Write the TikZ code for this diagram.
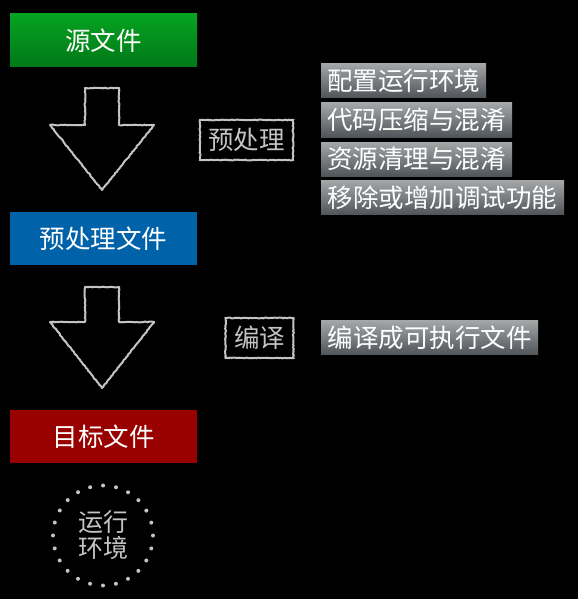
\documentclass[tikz,border=0pt]{standalone}
\usepackage{fontspec}
\setmainfont{Noto Sans CJK SC}
\usetikzlibrary{decorations.pathmorphing}
\definecolor{gtop}{HTML}{06A321}
\definecolor{gbot}{HTML}{007818}
\definecolor{bluebox}{HTML}{0062A8}
\definecolor{redbox}{HTML}{990000}
\definecolor{stop}{HTML}{A4A6A7}
\definecolor{sbot}{HTML}{50555A}
\definecolor{chalk}{HTML}{C4C4C4}
\begin{document}
\begin{tikzpicture}[x=1pt,y=-1pt,
  mainbox/.style={minimum width=187pt,minimum height=53pt,inner sep=0pt,text=white,
    font=\fontsize{25.5}{28}\selectfont},
  stepbox/.style={minimum height=34pt,inner sep=0pt,text=white,
    top color=stop,bottom color=sbot,font=\fontsize{25.5}{28}\selectfont},
  labelbox/.style={draw=chalk,line width=2pt,minimum height=40pt,inner sep=0pt,text=chalk,
    font=\fontsize{25.5}{28}\selectfont,decorate,decoration={random steps,segment length=1.5pt,amplitude=0.4pt}},
  chalkline/.style={draw=chalk,line width=2pt,line join=round,
    decorate,decoration={random steps,segment length=1.5pt,amplitude=0.4pt}}
]
\fill[black] (0,0) rectangle (578,599);
\useasboundingbox (0,0) rectangle (578,599);

% main boxes
\node[mainbox,top color=gtop,bottom color=gbot] (src) at (103.5,40.5) {源文件};
\node[mainbox,fill=bluebox] (pre) at (103.5,238.5) {预处理文件};
\node[mainbox,fill=redbox] (tgt) at (103.5,436.5) {目标文件};

% arrows
\coordinate (a1) at (102,88);
\draw[chalkline] ([xshift=-17]a1) -- ([xshift=17]a1) -- ++(0,37) -- ++(35,0)
  -- (102,190) -- (50,125) -- (85,125) -- cycle;
\coordinate (a2) at (102,287);
\draw[chalkline] ([xshift=-17]a2) -- ([xshift=17]a2) -- ++(0,35) -- ++(35,0)
  -- (102,388) -- (50,322) -- (85,322) -- cycle;

% labels
\node[labelbox,minimum width=93pt] (lpre) at (246.5,140) {预处理};
\node[labelbox,minimum width=68pt] (lcomp) at (259.5,338) {编译};

% step boxes
\node[stepbox,minimum width=165pt] (s1) at (403.5,80.5) {配置运行环境};
\node[stepbox,minimum width=191pt] (s2) at (416.5,120) {代码压缩与混淆};
\node[stepbox,minimum width=191pt] (s3) at (416.5,159) {资源清理与混淆};
\node[stepbox,minimum width=243pt] (s4) at (442.5,197.5) {移除或增加调试功能};
\node[stepbox,minimum width=217pt] (s5) at (429.5,337.5) {编译成可执行文件};

% runtime circle
\node[circle,minimum size=100pt,inner sep=0pt,text=chalk,align=center,
  font=\fontsize{25}{26}\selectfont] (rt) at (103,535.5) {运行\\环境};
\draw[chalk,line width=4pt,line cap=round,dash pattern=on 0pt off 13.09pt] (rt.center) circle[radius=50];
\end{tikzpicture}
\end{document}
